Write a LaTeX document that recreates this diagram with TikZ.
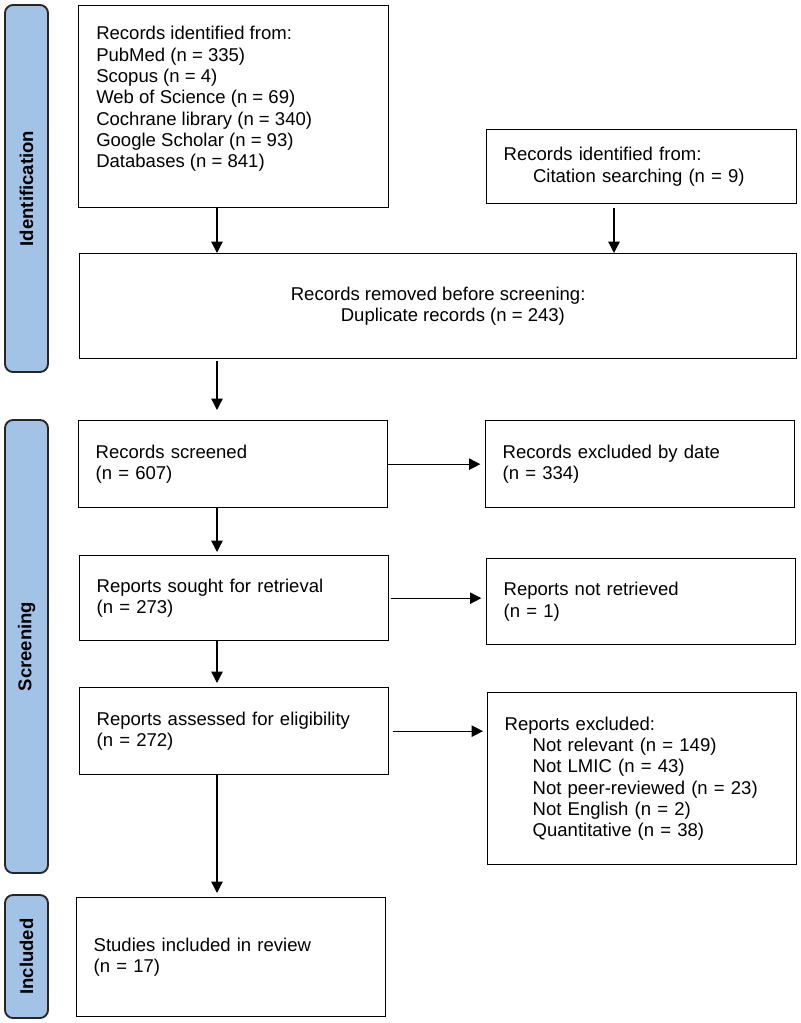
\documentclass[tikz,border=0pt]{standalone}
\usepackage{fontspec}
\setmainfont{Liberation Sans}
\usetikzlibrary{arrows.meta,positioning}
\definecolor{phase}{HTML}{A3C3E6}
\definecolor{edge}{HTML}{262626}
\tikzset{every node/.style={font=\fontsize{13.9}{16}\selectfont},
 stage/.style={draw=edge,fill=phase,line width=1.4pt,rounded corners=6pt,rotate=90,inner sep=0pt,
  minimum height=32.25pt,font=\bfseries\fontsize{13.9}{16}\selectfont},
 box/.style={draw=black,line width=1pt,anchor=north west,align=left,inner xsep=12.75pt,inner ysep=0pt,text width=206.25pt},
 link/.style={-{Triangle[length=8.5pt,width=8.5pt]},draw=black,line width=1pt}}

\begin{document}
\begin{tikzpicture}[x=.75pt,y=-.75pt]

\path[use as bounding box] (0,0) rectangle (800,1023);
% phase bars
\foreach \n/\y/\l/\t in {ident/188.5/275.25pt/Identification,screen/646.5/339.75pt/Screening,incl/956.5/92.25pt/Included}{
 \node[stage,minimum width=\l] (\n) at (26.5,\y) {\t};}
% identification
\node[box,text width=207pt,minimum height=151.5pt] (src) at (78,5) {};
\node[anchor=north west,align=left,inner sep=0pt] (srclist) at (96,26) {Records identified from:\\PubMed (n = 335)\\Scopus (n = 4)\\Web of Science (n = 69)\\Cochrane library (n = 340)\\Google Scholar (n = 93)\\Databases (n = 841)};
\node[box,text width=207pt,minimum height=55.5pt] (cite) at (486,129) {Records identified from:\\\hspace*{22pt}Citation searching (n = 9)};
\node[box,text width=,minimum width=537.75pt,minimum height=78.75pt] (dedup) at (79,253) {Records removed before screening:\\\hspace*{37.5pt}Duplicate records (n = 243)};
% screening
\node[box,minimum height=65.25pt] (screened) at (78,420) {Records screened\\(n = 607)};
\node[box,minimum height=65.25pt] (bydate) at (485,420) {Records excluded by date\\(n = 334)};
\node[box,minimum height=63.75pt] (sought) at (79,555) {Reports sought for retrieval\\(n = 273)};
\node[box,minimum height=64.5pt] (notret) at (486,558) {Reports not retrieved\\(n = 1)};
\node[box,minimum height=65.25pt] (assessed) at (79,687) {Reports assessed for eligibility\\(n = 272)};
\node[box,minimum height=129pt] (excl) at (487,692) {Reports excluded:\\\hspace*{21pt}Not relevant (n = 149)\\\hspace*{21pt}Not LMIC (n = 43)\\\hspace*{21pt}Not peer-reviewed (n = 23)\\\hspace*{21pt}Not English (n = 2)\\\hspace*{21pt}Quantitative (n = 38)};
% included
\node[box,minimum height=89.25pt] (studies) at (76,897) {Studies included in review\\(n = 17)};
% arrows
\coordinate (spine) at (217,0);
\coordinate (citeline) at (614,0);
\draw[link] (src.south -| spine) -- (dedup.north -| spine);
\draw[link] ([yshift=-3pt]cite.south -| citeline) -- (dedup.north -| citeline);
\draw[link,shorten <=1.5pt,shorten >=7.5pt] (dedup.south -| spine) -- (screened.north -| spine);
\draw[link,shorten >=2.25pt] (screened.south -| spine) -- (sought.north -| spine);
\draw[link,shorten >=3pt] (sought.south -| spine) -- (assessed.north -| spine);
\draw[link,shorten >=3pt] (assessed.south -| spine) -- (studies.north -| spine);
\draw[link,shorten >=3.5pt] (screened.east) -- (bydate.west |- screened.east);
\draw[link,shorten <=1pt,shorten >=3.5pt] (sought.east) -- (notret.west |- sought.east);
\draw[link,shorten <=3pt,shorten >=3pt] (assessed.east) -- (excl.west |- assessed.east);

\end{tikzpicture}
\end{document}
